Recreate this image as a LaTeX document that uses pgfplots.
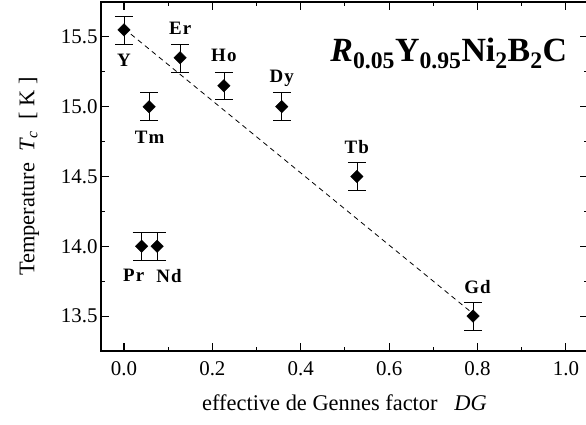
\documentclass[border=0pt]{standalone}
\usepackage{fontspec}
\setmainfont{Liberation Serif}
\newfontfamily\lbl[LetterSpace=6]{Liberation Serif}
\usepackage{pgfplots}
\pgfplotsset{compat=1.18}
\begin{document}
\begin{tikzpicture}[x=1bp,y=1bp]
\begin{axis}[
  at={(0,0)}, anchor=south west,
  scale only axis, width=487bp, height=349bp,
  xmin=-0.052, xmax=1.050, ymin=13.25, ymax=15.75,
  xtick={0,0.2,0.4,0.6,0.8,1.0},
  ytick={13.5,14.0,14.5,15.0,15.5},
  minor xtick={0.1,0.3,0.5,0.7,0.9},
  minor ytick={13.75,14.25,14.75,15.25},
  xticklabels={0.0,0.2,0.4,0.6,0.8,1.0},
  yticklabels={13.5,14.0,14.5,15.0,15.5},
  tick align=inside,
  major tick length=8bp, minor tick length=4bp,
  every tick/.style={line width=1.1pt, black},
  axis line style={line width=1.3pt},
  /pgf/number format/assume math mode=true,
  tick label style={font=\fontsize{21}{24}\selectfont},
  xticklabel style={yshift=-7bp},
  xlabel={effective de Gennes factor \ \ \textit{DG}},
  ylabel={Temperature \ \textit{T}\textsubscript{\textit{c}} \ [ K ]},
  label style={font=\fontsize{22.5}{25}\selectfont},
  xlabel style={yshift=-12bp},
  ylabel style={yshift=15bp},
  clip=false,
]
\addplot[black, dash pattern=on 5bp off 4bp, line width=0.8pt] coordinates {(0,15.56) (0.785,13.53)};
\addplot[only marks, mark=square*, mark size=4.4bp, mark options={rotate=45, black},
  error bars/.cd, y dir=both, y explicit,
  error mark options={rotate=90, mark size=9bp, line width=0.6pt, black},
  error bar style={line width=0.6pt, black}]
  coordinates {
  (0,15.55) +- (0,0.1)
  (0.057,15.0) +- (0,0.1)
  (0.127,15.35) +- (0,0.1)
  (0.226,15.15) +- (0,0.1)
  (0.357,15.0) +- (0,0.1)
  (0.527,14.5) +- (0,0.1)
  (0.79,13.5) +- (0,0.1)
  (0.04,14.0) +- (0,0.1)
  (0.075,14.0) +- (0,0.1)
  };
\begin{scope}[every node/.style={font=\fontsize{19}{22}\lbl\bfseries}]
\node at (axis cs:0,15.335) {Y};
\node at (axis cs:0.058,14.78) {Tm};
\node at (axis cs:0.127,15.56) {Er};
\node at (axis cs:0.226,15.37) {Ho};
\node at (axis cs:0.357,15.2) {Dy};
\node at (axis cs:0.527,14.71) {Tb};
\node at (axis cs:0.80,13.71) {Gd};
\node at (axis cs:0.022,13.79) {Pr};
\node at (axis cs:0.102,13.79) {Nd};
\end{scope}
\node[font=\fontsize{34}{38}\selectfont\bfseries] at (axis cs:0.735,15.38)
  {\textit{R}\textsubscript{0.05}Y\textsubscript{0.95}Ni\textsubscript{2}B\textsubscript{2}C};
\end{axis}
\pgfresetboundingbox
\useasboundingbox (-101,-73) rectangle (485,351);
\end{tikzpicture}
\end{document}
